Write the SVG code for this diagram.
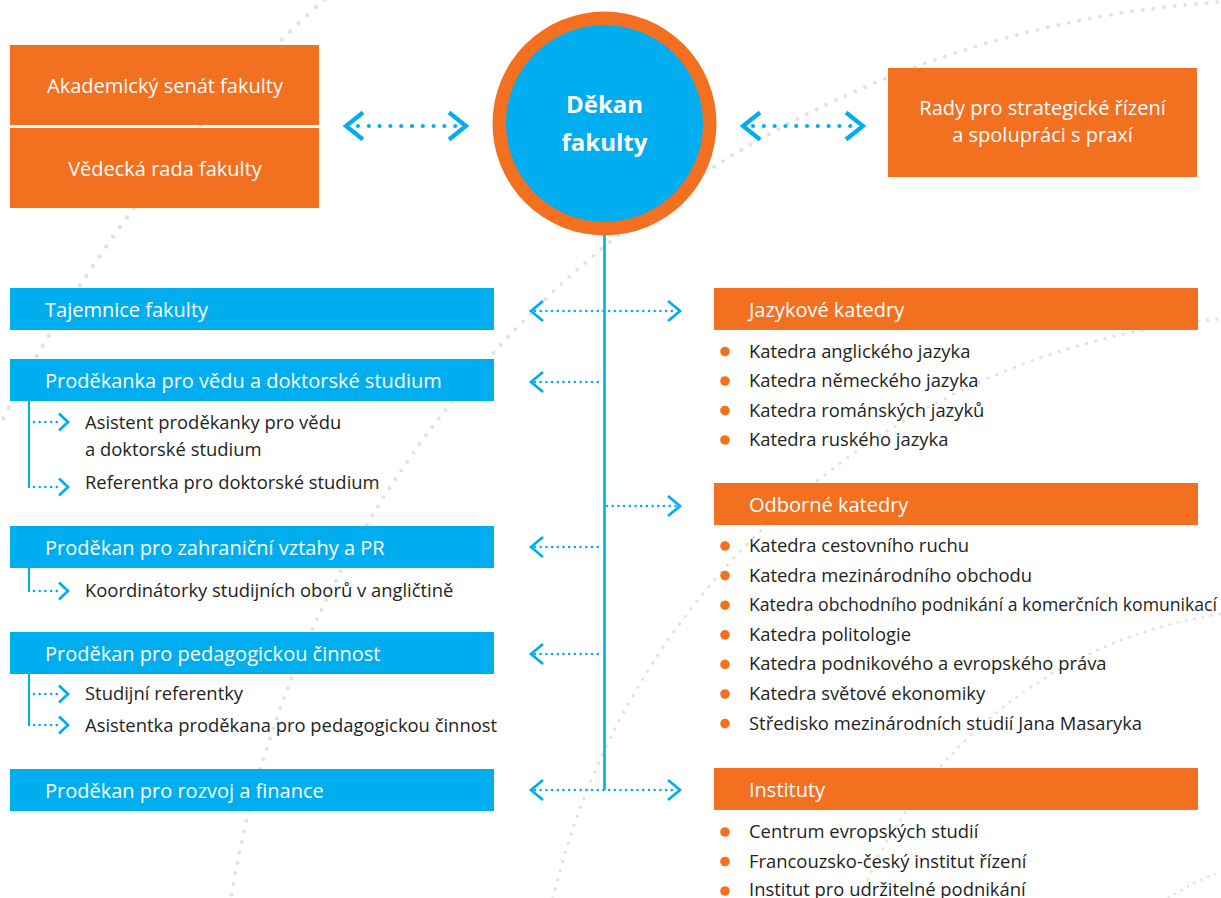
<svg xmlns="http://www.w3.org/2000/svg" xmlns:xlink="http://www.w3.org/1999/xlink" width="1221" height="898" viewBox="0 0 1221 898">
<style>
.bg{fill:none;stroke:#e1e2e4;stroke-linecap:round}
.or{fill:#f37021}
.bl{fill:#00aeef}
.wt{fill:#ffffff;font-family:"Open Sans","Noto Sans",sans-serif;font-size:20px}
.wc{fill:#ffffff;font-family:"Open Sans","Noto Sans",sans-serif;font-size:20px;text-anchor:middle}
.it{fill:#231f20;font-family:"Open Sans","Noto Sans",sans-serif;font-size:18.4px}
.dk{fill:#ffffff;font-family:"Open Sans","Noto Sans",sans-serif;font-size:24px;font-weight:bold;text-anchor:middle}
.dotL{fill:none;stroke:#00aeef;stroke-width:4.2;stroke-linecap:round;stroke-dasharray:0 10.8}
.chevL{fill:none;stroke:#00aeef;stroke-width:4.2;stroke-linecap:butt;stroke-linejoin:miter}
.dot{fill:none;stroke:#00aeef;stroke-width:2.6;stroke-linecap:round;stroke-dasharray:0 5.7}
.chev{fill:none;stroke:#00aeef;stroke-width:2.7;stroke-linejoin:miter}
.ln{fill:none;stroke:#00aeef;stroke-width:2.6}
.sl{fill:none;stroke:#00aeef;stroke-width:2}
.bu{fill:#f37021}
</style>
<defs>
<path id="cR" d="M-12,-10 L0,0 L-12,10"/>
<path id="cL" d="M12,-10 L0,0 L12,10"/>
<path id="cRL" d="M-17,-13.5 L0,0 L-17,13.5"/>
<path id="cLL" d="M17,-13.5 L0,0 L17,13.5"/>
<path id="cS" d="M-9,-8.5 L0,0 L-9,8.5"/>
</defs>

<g id="background">
<circle class="bg" cx="1288" cy="1071" r="210" stroke-width="2.6" stroke-dasharray="0 7.5"/>
<circle class="bg" cx="1288" cy="1071" r="462" stroke-width="3" stroke-dasharray="0 8.5"/>
<circle class="bg" cx="1288" cy="1071" r="755" stroke-width="3.4" stroke-dasharray="0 9.5"/>
<circle class="bg" cx="1288" cy="1071" r="1071" stroke-width="4" stroke-dasharray="0 10.7"/>
<circle class="bg" cx="1288" cy="1071" r="1441" stroke-width="4.5" stroke-dasharray="0 11.8"/>
</g>

<g id="connectors">
<line class="ln" x1="604.5" y1="230" x2="604.5" y2="790"/>
<line class="dotL" x1="358" y1="126" x2="456" y2="126"/>
<use xlink:href="#cLL" x="346" y="126" class="chevL"/>
<use xlink:href="#cRL" x="466" y="126" class="chevL"/>
<line class="dotL" x1="753" y1="126" x2="853" y2="126"/>
<use xlink:href="#cLL" x="743" y="126" class="chevL"/>
<use xlink:href="#cRL" x="863" y="126" class="chevL"/>
<line class="dot" x1="535" y1="311" x2="676" y2="311"/>
<use xlink:href="#cL" x="531" y="311" class="chev"/>
<use xlink:href="#cR" x="680" y="311" class="chev"/>
<line class="dot" x1="535" y1="382" x2="603" y2="382"/>
<use xlink:href="#cL" x="531" y="382" class="chev"/>
<line class="dot" x1="607" y1="506" x2="676" y2="506"/>
<use xlink:href="#cR" x="680" y="506" class="chev"/>
<line class="dot" x1="535" y1="547" x2="603" y2="547"/>
<use xlink:href="#cL" x="531" y="547" class="chev"/>
<line class="dot" x1="535" y1="654" x2="603" y2="654"/>
<use xlink:href="#cL" x="531" y="654" class="chev"/>
<line class="dot" x1="535" y1="790" x2="676" y2="790"/>
<use xlink:href="#cL" x="531" y="790" class="chev"/>
<use xlink:href="#cR" x="680" y="790" class="chev"/>
<line class="sl" x1="29" y1="400" x2="29" y2="488"/>
<line class="dot" x1="34" y1="422" x2="62" y2="422"/>
<use xlink:href="#cS" x="68" y="422" class="chev"/>
<line class="dot" x1="34" y1="487" x2="62" y2="487"/>
<use xlink:href="#cS" x="68" y="487" class="chev"/>
<line class="sl" x1="29" y1="567" x2="29" y2="592"/>
<line class="dot" x1="34" y1="591" x2="62" y2="591"/>
<use xlink:href="#cS" x="68" y="591" class="chev"/>
<line class="sl" x1="29" y1="673" x2="29" y2="726"/>
<line class="dot" x1="34" y1="694" x2="62" y2="694"/>
<use xlink:href="#cS" x="68" y="694" class="chev"/>
<line class="dot" x1="34" y1="725" x2="62" y2="725"/>
<use xlink:href="#cS" x="68" y="725" class="chev"/>
</g>

<g id="akademicky-senat">
<rect class="or" x="10" y="45" width="309" height="80"/>
<text class="wc" x="165" y="93">Akademický senát fakulty</text>
</g>
<g id="vedecka-rada">
<rect class="or" x="10" y="128" width="309" height="80"/>
<text class="wc" x="165" y="176">Vědecká rada fakulty</text>
</g>
<g id="dekan">
<circle cx="604.5" cy="123.5" r="112" fill="#f37021"/>
<circle cx="604.5" cy="123.5" r="98.5" fill="#00aeef"/>
<text class="dk" x="604.5" y="113">Děkan</text>
<text class="dk" x="604.5" y="151">fakulty</text>
</g>
<g id="rady">
<rect class="or" x="888" y="68" width="309" height="109"/>
<text class="wc" x="1042.5" y="115">Rady pro strategické řízení</text>
<text class="wc" x="1042.5" y="142">a spolupráci s praxí</text>
</g>

<g id="tajemnice">
<rect class="bl" x="10" y="288" width="484" height="42"/>
<text class="wt" x="45" y="316.5">Tajemnice fakulty</text>
</g>
<g id="prodekanka-veda">
<rect class="bl" x="10" y="359" width="484" height="42"/>
<text class="wt" x="45" y="388">Proděkanka pro vědu a doktorské studium</text>
<text class="it" x="85" y="429">Asistent proděkanky pro vědu</text>
<text class="it" x="85" y="456">a doktorské studium</text>
<text class="it" x="85" y="489">Referentka pro doktorské studium</text>
</g>
<g id="prodekan-zahranici">
<rect class="bl" x="10" y="526" width="484" height="42"/>
<text class="wt" x="45" y="555">Proděkan pro zahraniční vztahy a PR</text>
<text class="it" x="85" y="597">Koordinátorky studijních oborů v angličtině</text>
</g>
<g id="prodekan-pedagogika">
<rect class="bl" x="10" y="632" width="484" height="42"/>
<text class="wt" x="45" y="661">Proděkan pro pedagogickou činnost</text>
<text class="it" x="85" y="700">Studijní referentky</text>
<text class="it" x="85" y="731.5">Asistentka proděkana pro pedagogickou činnost</text>
</g>
<g id="prodekan-rozvoj">
<rect class="bl" x="10" y="769" width="484" height="42"/>
<text class="wt" x="45" y="798">Proděkan pro rozvoj a finance</text>
</g>

<g id="jazykove-katedry">
<rect class="or" x="714" y="288" width="484" height="42"/>
<text class="wt" x="749" y="316.5">Jazykové katedry</text>
<circle class="bu" cx="725" cy="351.5" r="4.8"/>
<text class="it" x="749" y="357.5">Katedra anglického jazyka</text>
<circle class="bu" cx="725" cy="381" r="4.8"/>
<text class="it" x="749" y="387">Katedra německého jazyka</text>
<circle class="bu" cx="725" cy="410.5" r="4.8"/>
<text class="it" x="749" y="416.5">Katedra románských jazyků</text>
<circle class="bu" cx="725" cy="440" r="4.8"/>
<text class="it" x="749" y="446">Katedra ruského jazyka</text>
</g>
<g id="odborne-katedry">
<rect class="or" x="714" y="483" width="484" height="42"/>
<text class="wt" x="749" y="512">Odborné katedry</text>
<circle class="bu" cx="725" cy="546" r="4.8"/>
<text class="it" x="749" y="552">Katedra cestovního ruchu</text>
<circle class="bu" cx="725" cy="575.6" r="4.8"/>
<text class="it" x="749" y="581.6">Katedra mezinárodního obchodu</text>
<circle class="bu" cx="725" cy="605.2" r="4.8"/>
<text class="it" x="749" y="611.2" textLength="468" lengthAdjust="spacingAndGlyphs">Katedra obchodního podnikání a komerčních komunikací</text>
<circle class="bu" cx="725" cy="634.8" r="4.8"/>
<text class="it" x="749" y="640.8">Katedra politologie</text>
<circle class="bu" cx="725" cy="664.4" r="4.8"/>
<text class="it" x="749" y="670.4">Katedra podnikového a evropského práva</text>
<circle class="bu" cx="725" cy="694" r="4.8"/>
<text class="it" x="749" y="700">Katedra světové ekonomiky</text>
<circle class="bu" cx="725" cy="723.6" r="4.8"/>
<text class="it" x="749" y="729.6">Středisko mezinárodních studií Jana Masaryka</text>
</g>
<g id="instituty">
<rect class="or" x="714" y="768" width="484" height="42"/>
<text class="wt" x="749" y="797">Instituty</text>
<circle class="bu" cx="725" cy="832" r="4.8"/>
<text class="it" x="749" y="838">Centrum evropských studií</text>
<circle class="bu" cx="725" cy="861.5" r="4.8"/>
<text class="it" x="749" y="867.5">Francouzsko-český institut řízení</text>
<circle class="bu" cx="725" cy="891" r="4.8"/>
<text class="it" x="749" y="896">Institut pro udržitelné podnikání</text>
</g>
</svg>
